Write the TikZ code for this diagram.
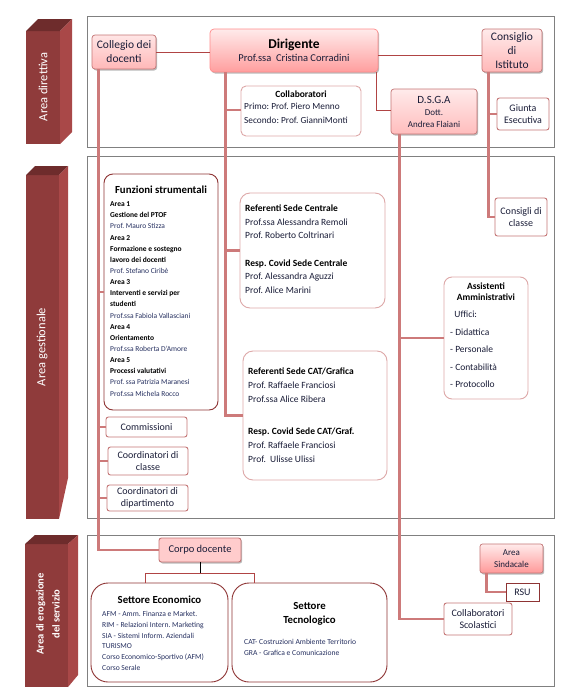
\documentclass[tikz,border=0pt]{standalone}
\usepackage{fontspec}
\setmainfont{Carlito}
\usetikzlibrary{shadows,calc}
\frenchspacing
\definecolor{panelgray}{HTML}{808080}
\definecolor{thickred}{HTML}{CD7A7A}
\definecolor{thinred}{HTML}{B04444}
\definecolor{darkred}{HTML}{8E3434}
\definecolor{lightbord}{HTML}{DDA8A8}
\definecolor{midbord}{HTML}{C47676}
\definecolor{barfront}{HTML}{8F3B3B}
\definecolor{barside}{HTML}{A94848}
\definecolor{bartop}{HTML}{6E2C2C}
\definecolor{txt}{HTML}{1A1D38}
\definecolor{navy}{HTML}{263060}
\tikzset{
  panel/.style={draw=panelgray, line width=0.9pt},
  thickline/.style={draw=thickred, line width=2.4pt},
  thinline/.style={draw=thinred, line width=0.9pt},
  shadowed/.style={drop shadow={shadow xshift=1.2pt, shadow yshift=-1.5pt, opacity=0.45, fill=black!60}},
  gradbox/.style={shadowed, draw=midbord, line width=0.7pt, rounded corners=3pt, inner sep=1pt, align=center, text=txt},
  whitebox/.style={draw=midbord, fill=white, line width=0.9pt, rounded corners=2.5pt, inner sep=1pt, align=center, text=txt},
  bartext/.style={text=white, rotate=90, align=center},
  txtblock/.style={anchor=north west, align=left, inner sep=0pt, text=txt},
}
\newcommand{\fs}[2]{\fontsize{#1}{#2}\selectfont}
\begin{document}
\begin{tikzpicture}[x=1pt,y=-1pt]
\useasboundingbox (0,0) rectangle (574,694);
\fill[white] (0,0) rectangle (574,694);

% panels
\draw[panel] (87,16) rectangle (554,147);
\draw[panel] (87,156) rectangle (554,518);
\draw[panel] (87,535) rectangle (554,686);

% bars
\fill[barfront] (26,31) rectangle (60,144);
\fill[bartop] (26,31) -- (38,19) -- (72,19) -- (60,31) -- cycle;
\fill[barside] (60,31) -- (72,19) -- (72,132) -- (60,144) -- cycle;
\node[bartext, font=\fs{12.5}{14}] (b1) at (43,87) {Area direttiva};

\fill[barfront] (26,175) rectangle (59,519);
\fill[bartop] (26,175) -- (35,166) -- (68,166) -- (59,175) -- cycle;
\fill[barside] (59,175) -- (68,166) -- (68,478) -- (59,519) -- cycle;
\node[bartext, font=\fs{12.5}{14}] (b2) at (42,347) {Area gestionale};

\fill[barfront] (25,544) rectangle (68,687);
\fill[bartop] (25,544) -- (35,535) -- (78,535) -- (68,544) -- cycle;
\fill[barside] (68,544) -- (78,535) -- (78,675) -- (68,687) -- cycle;
\node[bartext, font=\bfseries\fs{10.5}{16}] (b3) at (48,614) {Area di erogazione\\del servizio};

% ---- area direttiva nodes
\node[gradbox, top color=red!10, bottom color=red!28!white, minimum width=64pt, minimum height=34pt, font=\fs{11.5}{14}] (coll) at (124,52) {Collegio dei\\docenti};
\node[gradbox, draw=red!45!white, top color=red!8, bottom color=red!38!white, rounded corners=4pt, minimum width=168pt, minimum height=43pt] (dir) at (294,50.5) {{\bfseries\color{black}\fs{13.5}{15}Dirigente}\\[1pt]{\fs{10.5}{12}Prof.ssa\ \ Cristina Corradini}};
\node[gradbox, top color=red!8, bottom color=red!28!white, minimum width=60pt, minimum height=43pt, font=\fs{11.5}{14}] (cdi) at (512,50.5) {Consiglio\\di\\Istituto};
\node[draw=lightbord, fill=white, line width=0.9pt, rounded corners=5pt, minimum width=120pt, minimum height=50pt] (collab) at (301,111) {};
\node[anchor=north, inner sep=0pt, font=\bfseries\fs{9.5}{11}] (collabt) at (301,91) {Collaboratori};
\node[txtblock, font=\fs{9.3}{14}] (collabl) at (244,103) {Primo: Prof. Piero Menno\\Secondo: Prof. GianniMonti};
\node[gradbox, top color=red!8, bottom color=red!26!white, minimum width=86pt, minimum height=45pt] (dsga) at (434,111.5) {{\fs{11}{13}D.S.G.A}\\{\fs{9}{11}Dott.}\\{\fs{9}{11}Andrea Flaiani}};
\node[whitebox, minimum width=52pt, minimum height=32pt, font=\fs{10}{12.5}] (giunta) at (523,114) {Giunta\\Esecutiva};

% ---- area gestionale nodes
\node[whitebox, minimum width=52pt, minimum height=38pt, font=\fs{10}{12.5}] (cclasse) at (521,217) {Consigli di\\classe};
\node[draw=darkred, fill=white, line width=0.9pt, rounded corners=9pt, minimum width=114pt, minimum height=236pt] (funz) at (161,292) {};
\node[anchor=north, font=\bfseries\fs{10.8}{12}] (funzt) at (161,182) {Funzioni strumentali};
\node[txtblock, font=\fs{7.5}{11.15}, text=navy] (funzl) at (110,201.5) {%
{\bfseries\color{black}Area 1}\\{\bfseries\color{black}Gestione del PTOF}\\Prof. Mauro Stizza\\%
{\bfseries\color{black}Area 2}\\{\bfseries\color{black}Formazione e sostegno}\\{\bfseries\color{black}lavoro dei docenti}\\Prof. Stefano Ciribè\\%
{\bfseries\color{black}Area 3}\\{\bfseries\color{black}Interventi e servizi per}\\{\bfseries\color{black}studenti}\\Prof.ssa Fabiola Vallasciani\\%
{\bfseries\color{black}Area 4}\\{\bfseries\color{black}Orientamento}\\Prof.ssa Roberta D'Amore\\%
{\bfseries\color{black}Area 5}\\{\bfseries\color{black}Processi valutativi}\\Prof. ssa Patrizia Maranesi\\Prof.ssa Michela Rocco};

\node[draw=lightbord, fill=white, line width=0.9pt, rounded corners=10pt, minimum width=145pt, minimum height=115pt] (refc) at (312.5,250.5) {};
\node[txtblock, font=\fs{9.5}{13.7}] (refct) at (245,204.5) {%
{\bfseries\color{black}Referenti Sede Centrale}\\Prof.ssa Alessandra Remoli\\Prof. Roberto Coltrinari\\[13.7pt]%
{\bfseries\color{black}Resp. Covid Sede Centrale}\\Prof. Alessandra Aguzzi\\Prof. Alice Marini};

\node[draw=lightbord, fill=white, line width=0.9pt, rounded corners=10pt, minimum width=144pt, minimum height=129pt] (refcat) at (315,415.5) {};
\node[txtblock, font=\fs{9.5}{14}] (refcatt) at (248,368) {%
{\bfseries\color{black}Referenti Sede CAT/Grafica}\\Prof. Raffaele Franciosi\\Prof.ssa Alice Ribera\\[18pt]%
{\bfseries\color{black}Resp. Covid Sede CAT/Graf.}\\Prof. Raffaele Franciosi\\Prof.\ \ Ulisse Ulissi};

\node[draw=lightbord, fill=white, line width=0.9pt, rounded corners=8pt, minimum width=84pt, minimum height=122pt] (assist) at (486,338) {};
\node[anchor=north, align=center, inner sep=0pt, font=\bfseries\fs{9.5}{11}] (assistt) at (486,283) {Assistenti\\Amministrativi};
\node[txtblock, font=\fs{9.5}{17.5}] (assistl) at (450,311) {\ \ Uffici:\\- Didattica\\- Personale\\- Contabilità\\- Protocollo};

\node[whitebox, minimum width=81pt, minimum height=20pt, font=\fs{10}{12.5}] (comm) at (146.5,427) {Commissioni};
\node[whitebox, minimum width=80pt, minimum height=28pt, font=\fs{10}{12.5}] (coordcl) at (148,461) {Coordinatori di\\classe};
\node[whitebox, minimum width=81pt, minimum height=26pt, font=\fs{10}{12.5}] (coorddip) at (147.5,498) {Coordinatori di\\dipartimento};

% ---- area di erogazione nodes
\node[shadowed, draw=midbord, fill=red!20!white, line width=0.9pt, rounded corners=2.5pt, minimum width=82pt, minimum height=24pt, font=\fs{10.5}{12}, text=txt] (corpo) at (200,550) {Corpo docente};
\node[draw=darkred, fill=white, line width=0.9pt, rounded corners=17pt, minimum width=137pt, minimum height=99pt] (seco) at (159.5,632.5) {};
\node[anchor=north, font=\bfseries\fs{10.8}{12}] (secot) at (159.5,592) {Settore Economico};
\node[txtblock, font=\fs{7.6}{10.8}, text=navy] (secol) at (102,611) {%
AFM - Amm. Finanza e Market.\\RIM - Relazioni Intern. Marketing\\SIA - Sistemi Inform. Aziendali\\TURISMO\\Corso Economico-Sportivo (AFM)\\Corso Serale};
\node[draw=darkred, fill=white, line width=0.9pt, rounded corners=17pt, minimum width=155pt, minimum height=99pt] (stec) at (309.5,632.5) {};
\node[anchor=north, align=center, font=\bfseries\fs{10.8}{14}] (stect) at (309.5,599) {Settore\\Tecnologico};
\node[txtblock, font=\fs{7.6}{10.8}, text=navy] (stecl) at (244,639) {%
CAT- Costruzioni Ambiente Territorio\\GRA - Grafica e Comunicazione};

\node[gradbox, top color=red!8, bottom color=red!40!white, rounded corners=2.5pt, minimum width=63pt, minimum height=29pt, font=\fs{9}{11.5}] (asind) at (511.5,558.5) {Area\\Sindacale};
\node[draw=darkred, fill=white, line width=0.9pt, minimum width=33pt, minimum height=18pt, inner sep=0pt, font=\fs{10}{12}, text=txt] (rsu) at (522.5,592) {RSU};
\node[whitebox, minimum width=68pt, minimum height=32pt, font=\fs{10}{12.5}] (cscol) at (478,619) {Collaboratori\\Scolastici};

% ---- connectors
\coordinate (L1) at ($(coll.south west)+(7,0)$);
\coordinate (L2) at ($(dir.south west)+(16,0)$);
\coordinate (L3) at ($(dsga.south west)+(9,0)$);
\coordinate (L4) at ($(cdi.south west)+(7,0)$);
\coordinate (L5) at ($(asind.south west)+(7,0)$);
\coordinate (J) at ($(corpo.south)+(0,11)$);

\draw[thickline] (L1) |- (corpo.west);
\draw[thickline] (funz.west) -- (funz.west -| L1);
\draw[thickline] (comm.west) -- (comm.west -| L1);
\draw[thickline] (coordcl.west) -- (coordcl.west -| L1);
\draw[thickline] (coorddip.west) -- (coorddip.west -| L1);

\draw[thickline] (L2) |- (refcat.west);
\draw[thickline] ([yshift=1pt]collab.west) -- ([yshift=1pt]collab.west -| L2);
\draw[thickline] (refc.west) -- (refc.west -| L2);

\draw[thickline] (L3) |- (cscol.west);
\draw[thickline] (assist.west) -- (assist.west -| L3);

\draw[thickline] (L4) |- (cclasse.west);
\draw[thickline] (giunta.west) -- (giunta.west -| L4);

\draw[thickline] (L5) |- (rsu.west);

\draw[thinline] (coll.east) -- (coll.east -| dir.west);
\draw[thinline] ([yshift=-4.5pt]dir.east) -- ([yshift=-4.5pt]dir.east -| cdi.west);
\draw[thinline] ([xshift=-1.5pt]dir.south east) |- ([yshift=1.5pt]dsga.west);

\draw[black, line width=0.9pt] (corpo.south) -- (J);
\draw[thinline] ([xshift=-14.5pt]seco.north) |- (J) -| ([xshift=-55.5pt]stec.north);
\end{tikzpicture}
\end{document}
